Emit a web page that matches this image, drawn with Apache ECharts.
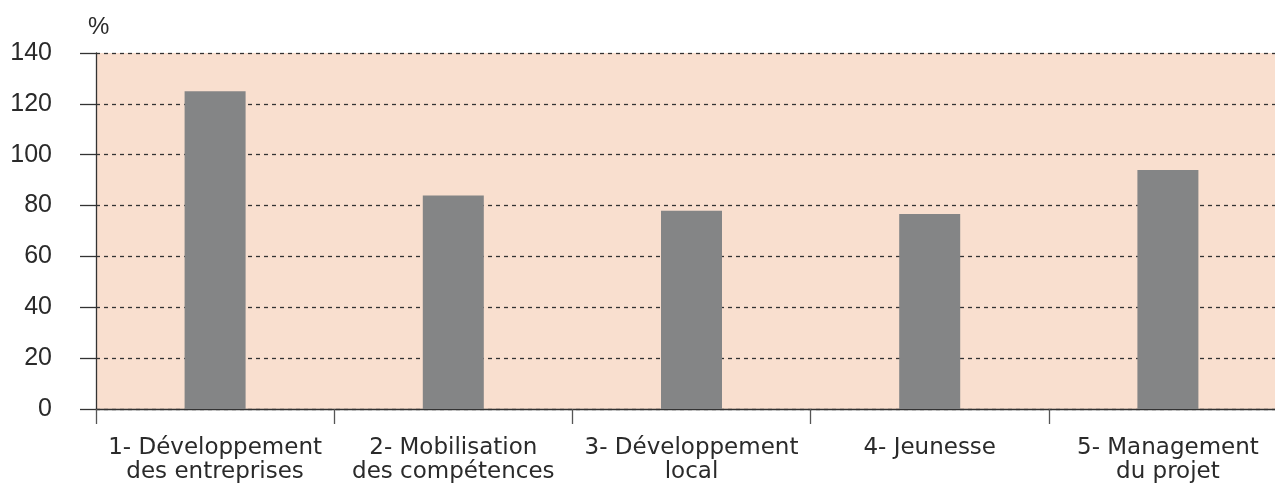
<!DOCTYPE html>
<html><head><meta charset="utf-8">
<script src="https://cdn.jsdelivr.net/npm/echarts@6/dist/echarts.min.js"></script>
<style>html,body{margin:0;padding:0;background:#fff}#c{width:1275px;height:486px}</style>
</head><body><div id="c"></div>
<script>
var categories = ['1- Développement\ndes entreprises','2- Mobilisation\ndes compétences','3- Développement\nlocal','4- Jeunesse','5- Management\ndu projet'];
var values = [125, 84, 78, 76.7, 94];
var yTicks = {min:0, max:140, interval:20};
var unitLabel = '%';

var chart = echarts.init(document.getElementById('c'));
var font = '"DejaVu Sans", sans-serif';
var yFont = '"Liberation Sans", Arial, sans-serif';
chart.setOption({
  animation:false,
  textStyle:{fontFamily:font},
  grid:{left:96, width:1191, top:53, height:356, outerBoundsMode:'none', containLabel:false, backgroundColor:'#F9DFCF', show:true, borderWidth:0},
  graphic:[{type:'text', left:88, top:15, style:{text:unitLabel, font:'24px '+yFont, fill:'#2a2a2a'}}],
  xAxis:{type:'category', data:categories,
    axisLine:{lineStyle:{color:'#333', width:1.3}},
    axisTick:{show:true, length:15, lineStyle:{color:'#555', width:1.3}},
    axisLabel:{color:'#2a2a2a', fontSize:23, margin:27, lineHeight:24, fontFamily:font, interval:0}
  },
  yAxis:{type:'value', min:yTicks.min, max:yTicks.max, interval:yTicks.interval,
    axisLine:{show:true, lineStyle:{color:'#333', width:1.3}},
    axisTick:{show:true, length:16, lineStyle:{color:'#333', width:1.3}},
    axisLabel:{color:'#2a2a2a', fontSize:25, margin:44, fontFamily:yFont},
    splitLine:{show:true, lineStyle:{color:'#333', type:[4,4], width:1.3}}
  },
  series:[{type:'bar', data:values, barWidth:61, itemStyle:{color:'#848586'}}]
});
</script></body></html>
